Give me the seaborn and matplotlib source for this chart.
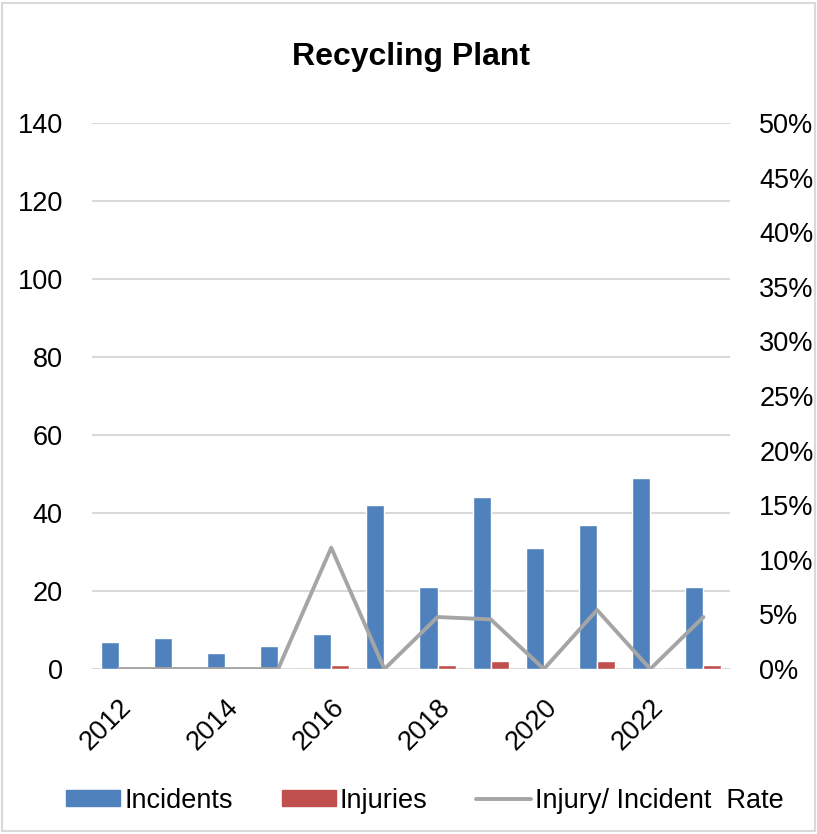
import matplotlib
matplotlib.use('Agg')
import matplotlib.pyplot as plt
import seaborn as sns
import pandas as pd
from matplotlib.patches import Rectangle
from matplotlib.lines import Line2D
from matplotlib.ticker import PercentFormatter

# data
years = [2012, 2013, 2014, 2015, 2016, 2017, 2018, 2019, 2020, 2021, 2022, 2023]
incidents = [7, 8, 4, 6, 9, 42, 21, 44, 31, 37, 49, 21]
injuries = [0, 0, 0, 0, 1, 0, 1, 2, 0, 2, 0, 1]
rate = [i / n for i, n in zip(injuries, incidents)]

sns.set_style('white')
plt.rcParams['font.family'] = ['Liberation Sans', 'DejaVu Sans']
plt.rcParams['text.color'] = 'black'
plt.rcParams['xtick.color'] = 'black'
plt.rcParams['ytick.color'] = 'black'

long_df = pd.DataFrame({
    'year': [str(y) for y in years] * 2,
    'value': incidents + injuries,
    'series': ['Incidents'] * len(years) + ['Injuries'] * len(years),
})
rate_df = pd.DataFrame({'pos': range(len(years)), 'rate': rate})

colors = {'Incidents': '#4F81BD', 'Injuries': '#C0504D'}
line_color = '#A5A5A5'
fs = 19.5

fig = plt.figure(figsize=(8.17, 8.34), dpi=100)
ax = fig.add_axes([0.1126, 0.1978, 0.7809, 0.6547])

sns.barplot(data=long_df, x='year', y='value', hue='series', palette=colors,
            width=0.68, ax=ax, legend=False, saturation=1)
ax.set_ylim(0, 140)
ax.set_yticks(range(0, 141, 20))
ax.yaxis.grid(True, color='#D9D9D9', linewidth=1.5)
ax.set_axisbelow(True)

ax2 = ax.twinx()
sns.lineplot(data=rate_df, x='pos', y='rate', color=line_color, linewidth=2.8, ax=ax2)
ax2.set_ylim(0, 0.5)
ax2.set_yticks([i * 0.05 for i in range(11)])
ax2.yaxis.set_major_formatter(PercentFormatter(1.0, decimals=0))

ax.set_xlim(-0.5, len(years) - 0.5)
ax.set_xticks(range(0, len(years), 2))
ax.set_xticklabels([str(y) for y in years[::2]], rotation=45, ha='right',
                   va='top', rotation_mode='anchor', fontsize=fs)

for a in (ax, ax2):
    for s in a.spines.values():
        s.set_visible(False)
    a.set_xlabel('')
    a.set_ylabel('')
    a.tick_params(length=0, labelsize=fs, labelcolor='black')
ax.tick_params(axis='y', pad=21)
ax2.tick_params(axis='y', pad=21)
ax.tick_params(axis='x', pad=18)

ax.set_title('Recycling Plant', fontsize=23, fontweight='bold', pad=42, color='black')

handles = [Rectangle((0, 0), 1, 1, color=colors['Incidents']),
           Rectangle((0, 0), 1, 1, color=colors['Injuries']),
           Line2D([0], [0], color=line_color, linewidth=2.8)]
fig.legend(handles, ['Incidents', 'Injuries', 'Injury/ Incident  Rate'],
           loc='center', bbox_to_anchor=(0.52, 0.04), ncol=3, frameon=False,
           fontsize=fs, handlelength=2.0, handletextpad=0.15, columnspacing=1.8,
           handleheight=0.5)

fig.patches.append(Rectangle((0.003, 0.003), 0.994, 0.994, transform=fig.transFigure,
                             fill=False, edgecolor='#D9D9D9', linewidth=1.5))

fig.savefig('out.png', dpi=100)
